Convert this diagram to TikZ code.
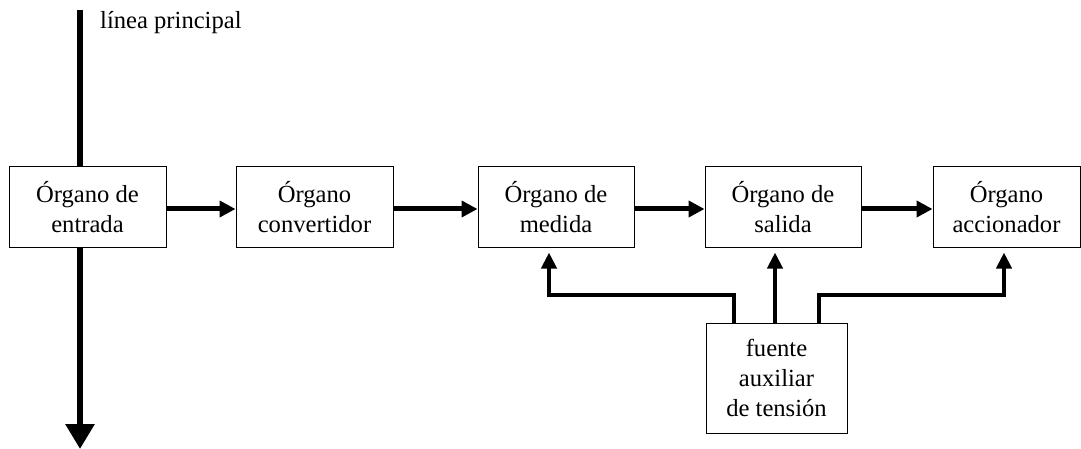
\documentclass[tikz,border=0pt]{standalone}
\usepackage{fontspec}
\setmainfont{Liberation Serif}
\usetikzlibrary{arrows.meta}
\begin{document}
\begin{tikzpicture}[x=1pt,y=-1pt,
  blk/.style={draw,line width=1pt,align=center,inner sep=0pt,font=\fontsize{24.6}{30}\selectfont},
  flow/.style={line width=5pt,-{Triangle[length=16pt,width=16pt]}},
  feed/.style={line width=4.5pt,-{Triangle[length=16pt,width=15pt]},shorten >=5pt},
  mainln/.style={line width=6pt}]
\useasboundingbox (0,0) rectangle (1081,449);
\node[blk,minimum width=157pt,minimum height=80pt] (b1) at (87.5,207) {Órgano de\\entrada};
\node[blk,minimum width=157pt,minimum height=80pt] (b2) at (314.5,207) {Órgano\\convertidor};
\node[blk,minimum width=156pt,minimum height=80pt] (b3) at (556,207) {Órgano de\\medida};
\node[blk,minimum width=156pt,minimum height=80pt] (b4) at (783,207) {Órgano de\\salida};
\node[blk,minimum width=147pt,minimum height=80pt] (b5) at (1006.5,207) {Órgano\\accionador};
\node[blk,minimum width=141pt,minimum height=110pt] (f) at (776.5,378) {fuente\\auxiliar\\de tensión};
\node[anchor=base west,inner sep=0pt,font=\fontsize{24.6}{30}\selectfont] (lbl) at (100,29) {línea principal};
\coordinate (top) at (80,10);
\coordinate (bot) at (80,449);
\draw[mainln] (top) -- (b1.north -| top);
\draw[mainln,-{Triangle[length=25pt,width=28pt]}] (b1.south -| top) -- (bot);
\draw[flow] ([yshift=-2pt]b1.east) -- ([yshift=-2pt]b2.west);
\draw[flow] ([yshift=-2pt]b2.east) -- ([yshift=-2pt]b3.west);
\draw[flow] ([yshift=-2pt]b3.east) -- ([yshift=-2pt]b4.west);
\draw[flow] ([yshift=-2pt]b4.east) -- ([yshift=-2pt]b5.west);
\coordinate (fl) at (734,323);
\coordinate (fm) at (775,323);
\coordinate (fr) at (819,323);
\draw[feed] (fl) -- (734,295) -- (549,295) -- (b3.south -| 549,0);
\draw[feed] (fm) -- (b4.south -| fm);
\draw[feed] (fr) -- (819,295) -- (1004,295) -- (b5.south -| 1004,0);
\end{tikzpicture}
\end{document}
